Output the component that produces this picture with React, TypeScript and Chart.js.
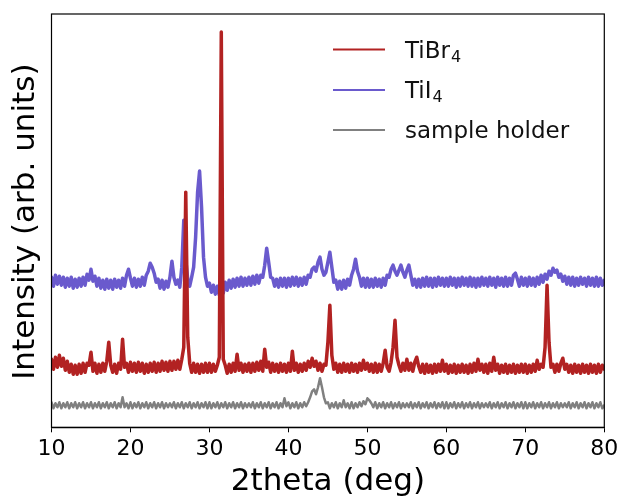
import React, { useEffect, useRef } from "react";
import { Chart, registerables } from "chart.js";

Chart.register(...registerables);

// 2theta grid: start and step of the measured angles (deg)
const angleStart = 10;
const angleStep = 0.25;

const seriesLabels = ["TiBr\u2084", "TiI\u2084", "sample holder"];
const seriesColors = ["#b22222", "#6a5acd", "#808080"];
const seriesWidths = [3.5, 3.5, 2.5];
const xTickValues = [10, 20, 30, 40, 50, 60, 70, 80];

// TiBr4 intensities (arb. units), one value per grid angle 10..80
const tibr4 = [
  68, 58, 70, 60, 72, 61, 69, 57, 66, 55, 63, 53, 62, 53, 63, 54, 64, 55, 64, 62,
  75, 56, 64, 54, 63, 55, 64, 56, 66, 85, 62, 55, 63, 54, 64, 58, 88, 60, 64, 55,
  65, 56, 64, 55, 65, 56, 64, 54, 63, 55, 64, 56, 65, 55, 64, 56, 66, 57, 65, 56,
  66, 57, 66, 58, 67, 58, 68, 80, 235, 90, 64, 55, 64, 55, 63, 54, 63, 55, 64, 55,
  64, 55, 63, 56, 62, 70, 395, 68, 62, 54, 63, 55, 64, 56, 73, 57, 64, 55, 63, 56,
  64, 55, 64, 56, 65, 57, 66, 56, 78, 60, 65, 55, 64, 56, 63, 55, 64, 56, 63, 55,
  64, 56, 76, 57, 64, 55, 63, 56, 64, 57, 66, 60, 69, 61, 66, 57, 64, 56, 63, 62,
  85, 122, 72, 58, 64, 55, 63, 55, 64, 56, 63, 55, 64, 56, 63, 55, 64, 57, 67, 58,
  64, 56, 63, 55, 64, 55, 63, 56, 64, 77, 60, 56, 65, 80, 107, 70, 62, 56, 64, 57,
  68, 57, 64, 56, 65, 70, 61, 55, 63, 54, 63, 55, 62, 54, 63, 55, 63, 56, 67, 56,
  63, 54, 62, 55, 63, 54, 62, 55, 63, 55, 62, 54, 63, 55, 64, 56, 68, 57, 63, 55,
  63, 54, 64, 56, 70, 57, 63, 54, 62, 55, 63, 54, 62, 55, 63, 54, 62, 55, 63, 55,
  63, 54, 62, 55, 63, 56, 67, 58, 63, 60, 80, 142, 85, 60, 63, 55, 63, 56, 64, 69,
  58, 63, 55, 62, 54, 63, 55, 62, 54, 63, 55, 62, 54, 63, 55, 62, 54, 63, 55, 62,
  58,
];

// TiI4 intensities (arb. units)
const tii4 = [
  150, 141, 152, 143, 151, 142, 150, 140, 149, 141, 150, 139, 148, 140, 149, 141, 150, 142, 153, 147,
  158, 146, 151, 141, 149, 139, 147, 138, 148, 139, 147, 138, 148, 140, 147, 139, 149, 141, 152, 158,
  149, 141, 149, 140, 148, 141, 150, 142, 152, 156, 164, 160, 154, 145, 148, 139, 147, 138, 146, 140,
  150, 166, 150, 143, 147, 140, 160, 207, 168, 148, 141, 150, 160, 190, 235, 256, 220, 170, 150, 141,
  144, 135, 142, 133, 141, 132, 140, 134, 145, 137, 147, 139, 148, 140, 149, 141, 150, 141, 149, 142,
  150, 142, 151, 143, 152, 144, 152, 150, 162, 179, 165, 150, 149, 141, 148, 140, 149, 141, 149, 140,
  149, 141, 150, 142, 150, 141, 149, 142, 150, 143, 152, 150, 158, 160, 156, 165, 170, 158, 152, 155,
  165, 175, 160, 145, 147, 138, 146, 138, 147, 139, 148, 142, 152, 158, 168, 156, 150, 141, 149, 140,
  149, 140, 148, 140, 149, 141, 148, 140, 149, 142, 152, 150, 158, 162, 156, 152, 157, 162, 155, 150,
  157, 162, 152, 142, 148, 140, 148, 140, 149, 141, 150, 141, 149, 140, 149, 141, 150, 142, 149, 141,
  149, 141, 150, 142, 149, 140, 149, 141, 150, 142, 149, 141, 150, 141, 149, 140, 149, 141, 150, 142,
  149, 141, 150, 142, 149, 140, 150, 142, 149, 141, 150, 141, 149, 142, 152, 154, 148, 141, 150, 142,
  149, 141, 150, 142, 149, 141, 150, 143, 152, 145, 153, 148, 156, 152, 159, 155, 157, 150, 153, 146,
  151, 143, 150, 142, 150, 141, 149, 142, 150, 143, 149, 141, 150, 142, 149, 141, 150, 141, 149, 142,
  147,
];

// sample holder intensities (arb. units)
const holder = [
  25, 19, 24, 20, 25, 19, 24, 20, 25, 19, 24, 20, 25, 19, 24, 20, 25, 19, 24, 20,
  25, 19, 24, 20, 25, 19, 24, 20, 25, 19, 24, 20, 25, 19, 24, 20, 30, 20, 24, 19,
  25, 19, 24, 20, 25, 19, 24, 20, 25, 19, 24, 20, 25, 19, 24, 20, 25, 19, 24, 20,
  24, 20, 25, 19, 24, 20, 25, 19, 24, 20, 25, 19, 24, 20, 25, 19, 24, 20, 25, 19,
  25, 19, 24, 20, 25, 19, 24, 20, 25, 19, 24, 20, 25, 19, 24, 20, 25, 19, 24, 20,
  24, 20, 25, 19, 24, 20, 25, 19, 24, 20, 25, 19, 24, 20, 25, 19, 24, 20, 29, 21,
  25, 19, 24, 20, 25, 19, 24, 20, 25, 21, 25, 30, 36, 38, 33, 40, 49, 40, 30, 24,
  25, 19, 24, 20, 25, 19, 24, 20, 27, 20, 24, 19, 25, 19, 24, 20, 25, 21, 26, 23,
  29, 27, 24, 20, 25, 19, 24, 20, 25, 19, 24, 20, 25, 19, 24, 20, 25, 19, 24, 20,
  24, 20, 25, 19, 24, 20, 25, 19, 24, 20, 25, 19, 24, 20, 25, 19, 24, 20, 25, 19,
  25, 19, 24, 20, 25, 19, 24, 20, 25, 19, 24, 20, 25, 19, 24, 20, 25, 19, 24, 20,
  24, 20, 25, 19, 24, 20, 25, 19, 24, 20, 25, 19, 24, 20, 25, 19, 24, 20, 25, 19,
  25, 19, 24, 20, 25, 19, 24, 20, 25, 19, 24, 20, 25, 19, 24, 20, 25, 19, 24, 20,
  24, 20, 25, 19, 24, 20, 25, 19, 24, 20, 25, 19, 24, 20, 25, 19, 24, 20, 25, 19,
  22,
];

const FONT = "'DejaVu Sans', sans-serif";

const decorPlugin = {
  id: "decor",
  afterDraw(chart: any) {
    const { ctx, chartArea } = chart;
    const { left, right, top, bottom } = chartArea;
    ctx.save();
    // frame
    ctx.strokeStyle = "#000";
    ctx.lineWidth = 1.2;
    ctx.strokeRect(left, top, right - left, bottom - top);

    // axis titles
    ctx.fillStyle = "#000";
    ctx.font = `31px ${FONT}`;
    ctx.textAlign = "center";
    ctx.textBaseline = "alphabetic";
    ctx.fillText("2theta (deg)", (left + right) / 2, 490);
    ctx.save();
    ctx.translate(34, (top + bottom) / 2 + 1);
    ctx.rotate(-Math.PI / 2);
    ctx.fillText("Intensity (arb. units)", 0, 0);
    ctx.restore();

    // legend
    const rows = [49.5, 90, 130];
    ctx.textAlign = "left";
    chart.data.datasets.forEach((ds: any, i: number) => {
      const y = rows[i];
      ctx.strokeStyle = ds.borderColor;
      ctx.lineWidth = 2;
      ctx.beginPath();
      ctx.moveTo(333, y);
      ctx.lineTo(385, y);
      ctx.stroke();
      ctx.fillStyle = "#111";
      const label: string = ds.label;
      const hasSub = label.endsWith("\u2084");
      const base = hasSub ? label.slice(0, -1) : label;
      ctx.font = `23px ${FONT}`;
      ctx.fillText(base, 405, y + 8);
      if (hasSub) {
        const w = ctx.measureText(base).width;
        ctx.font = `16px ${FONT}`;
        ctx.fillText("4", 405 + w + 1, y + 12);
      }
    });
    ctx.restore();
  },
};

export default function App() {
  const ref = useRef<HTMLCanvasElement>(null);

  useEffect(() => {
    const toPoints = (arr: number[]) =>
      arr.map((y, i) => ({ x: angleStart + i * angleStep, y }));
    const all = [tibr4, tii4, holder];
    const chart = new Chart(ref.current as HTMLCanvasElement, {
      type: "line",
      data: {
        datasets: all.map((arr, i) => ({
          label: seriesLabels[i],
          data: toPoints(arr),
          borderColor: seriesColors[i],
          backgroundColor: seriesColors[i],
          borderWidth: seriesWidths[i],
          borderJoinStyle: "round",
          borderCapStyle: "round",
          pointRadius: 0,
          tension: 0,
          fill: false,
        })),
      },
      options: {
        animation: false,
        responsive: false,
        events: [],
        layout: { padding: { left: 51.5, right: 14.7, top: 14, bottom: 36.7 } },
        scales: {
          x: {
            type: "linear",
            min: 10,
            max: 80,
            afterBuildTicks: (axis: any) => {
              axis.ticks = xTickValues.map((v) => ({ value: v }));
            },
            afterFit: (axis: any) => {
              axis.paddingLeft = 0;
              axis.paddingRight = 0;
              axis.paddingTop = 0;
              axis.paddingBottom = 0;
              axis.height = 33;
            },
            grid: {
              display: true,
              drawOnChartArea: false,
              drawTicks: true,
              tickLength: 5,
              color: "#000",
              lineWidth: 1,
            },
            border: { display: true, color: "#000", width: 1.2 },
            ticks: {
              color: "#000",
              padding: 6,
              maxRotation: 0,
              autoSkip: false,
              font: { family: FONT, size: 22, lineHeight: 1 },
            },
          },
          y: { display: false, min: 0, max: 413 },
        },
        plugins: {
          legend: { display: false },
          tooltip: { enabled: false },
        },
      },
      plugins: [decorPlugin],
    } as any);
    return () => chart.destroy();
  }, []);

  return (
    <div style={{ position: "absolute", left: 0, top: 0, width: 619, height: 497, background: "#fff" }}>
      <canvas ref={ref} width={619} height={497} style={{ display: "block" }} />
    </div>
  );
}
